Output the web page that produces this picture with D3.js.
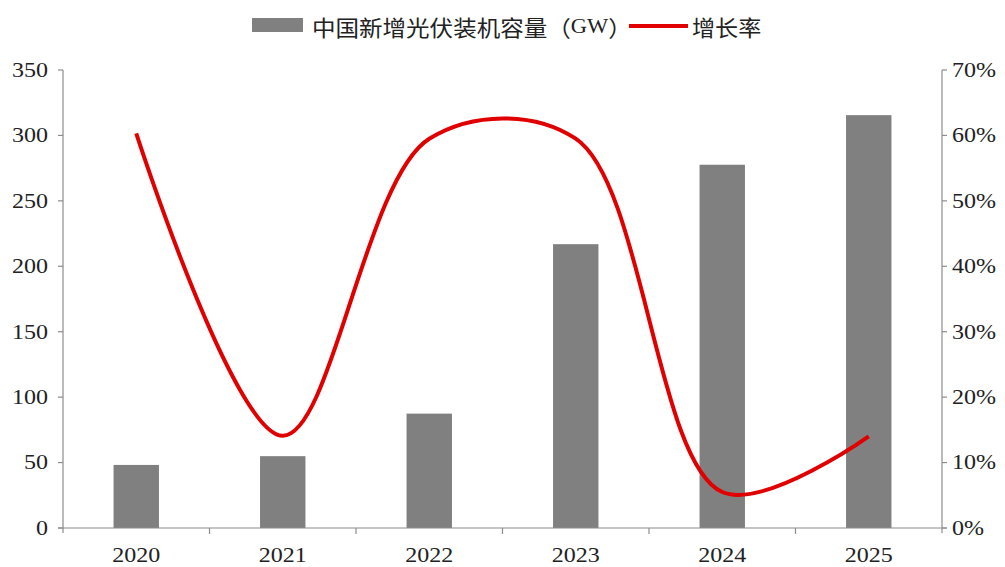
<!DOCTYPE html>
<html><head><meta charset="utf-8">
<script src="https://cdn.jsdelivr.net/npm/d3@7"></script>
<style>body{margin:0;background:#fff}</style>
</head><body>
<svg id="c" width="1005" height="567"></svg>
<script>
const categories = ["2020","2021","2022","2023","2024","2025"];
const capacity = [48.2, 54.9, 87.4, 216.9, 277.6, 315.5];
const growth = [0.603, 0.141, 0.595, 0.595, 0.055, 0.14];
const leftTicks = [0,50,100,150,200,250,300,350];
const rightTicks = [0,0.1,0.2,0.3,0.4,0.5,0.6,0.7];
const legendParts = [["中国新增光伏装机容量（","cjk"],["GW","num"],["）","cjk"]];
const legendLabel2 = "增长率";

const svg = d3.select("#c");
const L = 63, R = 942, T = 70, B = 528;
const x = d3.scaleBand().domain(categories).range([L,R]).paddingInner(0.69).paddingOuter(0.345);
const xb = d3.scaleBand().domain(categories).range([L,R]);
const y = d3.scaleLinear().domain([0,350]).range([B,T]);
const y2 = d3.scaleLinear().domain([0,0.7]).range([B,T]);
const axisColor = "#8c8c8c";
const numFont = "'Liberation Serif','Times New Roman',serif";
const cjkFont = "'Noto Sans CJK SC','Noto Sans',sans-serif";

function stext(g, xx, yy, txt, anchor, size, sx, family, fill){
  return g.append("text").attr("transform",`translate(${xx},${yy}) scale(${sx},1)`)
   .attr("text-anchor",anchor).attr("dominant-baseline","central")
   .attr("font-family",family).attr("font-size",size).attr("fill",fill||"#222").text(txt);
}

// bars
svg.append("g").selectAll("rect").data(categories).join("rect")
  .attr("x",d=>x(d)).attr("width",x.bandwidth())
  .attr("y",(d,i)=>y(capacity[i])).attr("height",(d,i)=>B-y(capacity[i]))
  .attr("fill","#808080");

// axes
const ax = svg.append("g").attr("stroke",axisColor).attr("stroke-width",1.2).attr("fill","none");
ax.append("line").attr("x1",L).attr("x2",L).attr("y1",T).attr("y2",B+5);
ax.append("line").attr("x1",R).attr("x2",R).attr("y1",T).attr("y2",B+5);
ax.append("line").attr("x1",L-5).attr("x2",R+5).attr("y1",B).attr("y2",B);
leftTicks.forEach(t=>ax.append("line").attr("x1",L-5).attr("x2",L).attr("y1",y(t)).attr("y2",y(t)));
rightTicks.forEach(t=>ax.append("line").attr("x1",R).attr("x2",R+5).attr("y1",y2(t)).attr("y2",y2(t)));
categories.forEach((c,i)=>{ if(i>0){const xx=xb(c); ax.append("line").attr("x1",xx).attr("x2",xx).attr("y1",B).attr("y2",B+6);} });

const lab = svg.append("g");
leftTicks.forEach(t=>stext(lab, 48, y(t), String(t), "end", 20, 1.2, numFont));
rightTicks.forEach(t=>stext(lab, 952, y2(t), Math.round(t*100)+"%", "start", 20, 1.2, numFont));
categories.forEach(c=>stext(lab, x(c)+x.bandwidth()/2, 555, c, "middle", 20, 1.2, numFont));

// line
const line = d3.line().x((d,i)=>x(categories[i])+x.bandwidth()/2).y(d=>y2(d)).curve(d3.curveCatmullRom.alpha(0.5));
svg.append("path").datum(growth).attr("d",line).attr("fill","none")
  .attr("stroke","#e00000").attr("stroke-width",4).attr("stroke-linejoin","round");

// legend
const lg = svg.append("g");
lg.append("rect").attr("x",252).attr("y",18).attr("width",51).attr("height",14).attr("fill","#808080");
const t1 = lg.append("text").attr("transform","translate(312,26) scale(1.07,1)")
  .attr("dominant-baseline","central").attr("font-size",22).attr("fill","#222");
legendParts.forEach(p=>t1.append("tspan").attr("font-family",p[1]==="cjk"?cjkFont:numFont)
  .attr("font-size",p[1]==="cjk"?22:21).text(p[0]));
lg.append("line").attr("x1",629).attr("x2",688).attr("y1",26).attr("y2",26).attr("stroke","#e00000").attr("stroke-width",4);
stext(lg, 692, 26, legendLabel2, "start", 22, 1.05, cjkFont);
</script>
</body></html>
